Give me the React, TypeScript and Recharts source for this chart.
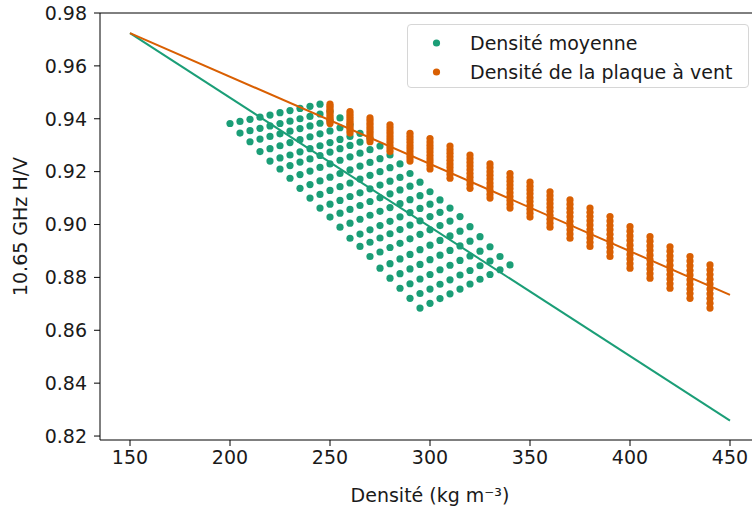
import { ScatterChart, Scatter, XAxis, YAxis, ReferenceLine } from 'recharts';

const GREEN = '#1b9e77';
const ORANGE = '#d95f02';
const FONT = "'DejaVu Sans', sans-serif";

// wind slab densities (one orange column each)
const slabDensities = [250, 260, 270, 280, 290, 300, 310, 320, 330, 340, 350, 360, 370, 380, 390, 400, 410, 420, 430, 440];
// underlying snow densities, combined with the slab to give the mean density
const baseDensities = [150, 160, 170, 180, 190, 200, 210, 220, 230, 240];

// 10.65 GHz H/V ratio, one row per slab density, one value per base density
const ratioBySlab = [
  [0.9382, 0.939, 0.9398, 0.9406, 0.9414, 0.9423, 0.9431, 0.9439, 0.9447, 0.9455],
  [0.9346, 0.9355, 0.9364, 0.9373, 0.9382, 0.9391, 0.94, 0.9409, 0.9418, 0.9427],
  [0.9313, 0.9323, 0.9333, 0.9343, 0.9353, 0.9363, 0.9373, 0.9383, 0.9393, 0.9403],
  [0.9276, 0.9287, 0.9298, 0.931, 0.9321, 0.9332, 0.9343, 0.9354, 0.9366, 0.9377],
  [0.924, 0.9252, 0.9263, 0.9275, 0.9287, 0.9298, 0.931, 0.9322, 0.9333, 0.9345],
  [0.921, 0.9223, 0.9236, 0.9248, 0.9261, 0.9274, 0.9287, 0.9299, 0.9312, 0.9325],
  [0.9175, 0.9189, 0.9202, 0.9216, 0.9229, 0.9243, 0.9256, 0.927, 0.9283, 0.9297],
  [0.9137, 0.9151, 0.9165, 0.9179, 0.9193, 0.9207, 0.9221, 0.9235, 0.9249, 0.9263],
  [0.91, 0.9114, 0.9129, 0.9143, 0.9157, 0.9172, 0.9186, 0.92, 0.9215, 0.9229],
  [0.9062, 0.9077, 0.9091, 0.9106, 0.912, 0.9135, 0.9149, 0.9164, 0.9178, 0.9193],
  [0.9028, 0.9043, 0.9057, 0.9072, 0.9087, 0.9101, 0.9116, 0.9131, 0.9145, 0.916],
  [0.899, 0.9005, 0.902, 0.9035, 0.905, 0.9064, 0.9079, 0.9094, 0.9109, 0.9124],
  [0.8948, 0.8964, 0.898, 0.8996, 0.9012, 0.9029, 0.9045, 0.9061, 0.9077, 0.9093],
  [0.8917, 0.8933, 0.8949, 0.8965, 0.8981, 0.8998, 0.9014, 0.903, 0.9046, 0.9062],
  [0.8879, 0.8896, 0.8913, 0.8929, 0.8946, 0.8963, 0.898, 0.8996, 0.9013, 0.903],
  [0.8835, 0.8852, 0.887, 0.8887, 0.8905, 0.8922, 0.894, 0.8957, 0.8975, 0.8992],
  [0.8797, 0.8814, 0.8832, 0.8849, 0.8867, 0.8884, 0.8902, 0.8919, 0.8937, 0.8954],
  [0.8759, 0.8776, 0.8794, 0.8811, 0.8829, 0.8846, 0.8864, 0.8881, 0.8899, 0.8916],
  [0.8721, 0.8739, 0.8756, 0.8774, 0.8791, 0.8809, 0.8826, 0.8844, 0.8862, 0.8879],
  [0.8684, 0.8702, 0.872, 0.8738, 0.8756, 0.8775, 0.8793, 0.8811, 0.8829, 0.8847],
];

// fitted lines
const fitDensities = [150, 450];
const meanFitRatio = [0.9724, 0.8258];
const slabFitRatio = [0.9724, 0.8734];

const xTicks = [150, 200, 250, 300, 350, 400, 450];
const yTicks = [0.82, 0.84, 0.86, 0.88, 0.9, 0.92, 0.94, 0.96, 0.98];

const slabPoints = slabDensities.flatMap((s, i) =>
  baseDensities.map((_, j) => ({ x: s, y: ratioBySlab[i][j] }))
);
const meanPoints = slabDensities.flatMap((s, i) =>
  baseDensities.map((b, j) => ({ x: (s + b) / 2, y: ratioBySlab[i][j] }))
);
const meanFit = fitDensities.map((x, i) => ({ x, y: meanFitRatio[i] }));
const slabFit = fitDensities.map((x, i) => ({ x, y: slabFitRatio[i] }));

const dot = (color: string) => (p: any) => <circle cx={p.cx} cy={p.cy} r={3.6} fill={color} />;
const noDot = () => <g />;

const tickStyle = { fill: '#1a1a1a', fontSize: 19, fontFamily: FONT };

function LegendBox() {
  const row = (color: string, label: string, top: number) => (
    <div style={{ position: 'absolute', left: 0, top, height: 24, display: 'flex', alignItems: 'center' }}>
      <svg width={60} height={24} style={{ display: 'block' }}>
        <circle cx={28.5} cy={12} r={3.6} fill={color} />
      </svg>
      <span style={{ marginLeft: 2, whiteSpace: 'nowrap' }}>{label}</span>
    </div>
  );
  return (
    <div
      style={{
        position: 'absolute',
        left: 407,
        top: 24,
        width: 342,
        height: 64,
        border: '1px solid #d6d6d6',
        borderRadius: 4,
        background: 'rgba(255,255,255,0.8)',
        fontFamily: FONT,
        fontSize: 19,
        color: '#1a1a1a',
        boxSizing: 'border-box',
      }}
    >
      {row(GREEN, 'Densité moyenne', 6)}
      {row(ORANGE, 'Densité de la plaque à vent', 35)}
    </div>
  );
}

export default function App() {
  return (
    <div style={{ position: 'fixed', left: 0, top: 0, width: 752, height: 510, overflow: 'hidden', background: '#fff' }}>
      <ScatterChart width={770} height={510} margin={{ top: 13, right: 10, bottom: 0, left: 0 }}>
        <XAxis
          type="number"
          dataKey="x"
          domain={[135, 465]}
          ticks={xTicks}
          tick={tickStyle}
          tickSize={6}
          tickMargin={5}
          height={70}
          stroke="#000"
          allowDataOverflow
          label={{
            value: 'Densité (kg m⁻³)',
            position: 'insideBottom',
            offset: 8,
            style: { fill: '#1a1a1a', fontSize: 19, fontFamily: FONT },
          }}
        />
        <YAxis
          type="number"
          dataKey="y"
          domain={[0.8185, 0.98]}
          ticks={yTicks}
          tickFormatter={(v: number) => v.toFixed(2)}
          tick={tickStyle}
          tickSize={6}
          tickMargin={7}
          width={100}
          stroke="#000"
          allowDataOverflow
          label={{
            content: (props: any) => {
              const vb = props.viewBox || { x: 0, y: 13, width: 100, height: 427 };
              const cy = vb.y + vb.height / 2;
              return (
                <text
                  x={20}
                  y={cy}
                  transform={`rotate(-90, 20, ${cy})`}
                  textAnchor="middle"
                  dominantBaseline="central"
                  fill="#1a1a1a"
                  fontSize={19}
                  fontFamily={FONT}
                >
                  10.65 GHz H/V
                </text>
              );
            },
          }}
        />
        <ReferenceLine y={0.98} stroke="#000" strokeWidth={1} />
        <Scatter data={meanPoints} shape={dot(GREEN)} isAnimationActive={false} />
        <Scatter data={slabPoints} shape={dot(ORANGE)} isAnimationActive={false} />
        <Scatter data={meanFit} shape={noDot} line={{ stroke: GREEN, strokeWidth: 2 }} isAnimationActive={false} />
        <Scatter data={slabFit} shape={noDot} line={{ stroke: ORANGE, strokeWidth: 2 }} isAnimationActive={false} />
      </ScatterChart>
      <LegendBox />
    </div>
  );
}
